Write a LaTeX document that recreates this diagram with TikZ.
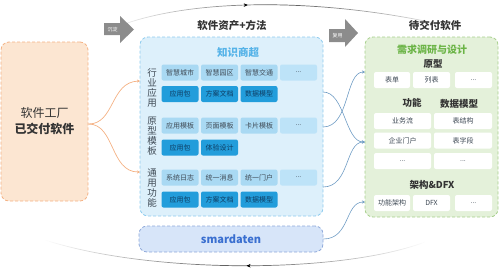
\documentclass[tikz,border=0pt]{standalone}
\usepackage{fontspec}
\setmainfont{Noto Sans CJK SC}
\usetikzlibrary{arrows.meta,fadings,decorations.markings}
\definecolor{orfill}{HTML}{FCE6D2}
\definecolor{orline}{HTML}{F4B183}
\definecolor{midfill}{HTML}{DDF0FB}
\definecolor{midline}{HTML}{8ECBEE}
\definecolor{lightb}{HTML}{A9D9F3}
\definecolor{lighterb}{HTML}{BDE3F8}
\definecolor{darkb}{HTML}{229DDB}
\definecolor{darktxt}{HTML}{0E3D63}
\definecolor{txtgray}{HTML}{3F4A55}
\definecolor{titleb}{HTML}{55B3E8}
\definecolor{smfill}{HTML}{D7E5F9}
\definecolor{smline}{HTML}{8FA9DA}
\definecolor{smtxt}{HTML}{3A6FD0}
\definecolor{grfill}{HTML}{E4F1DA}
\definecolor{grline}{HTML}{A8D08D}
\definecolor{grtxt}{HTML}{6BB446}
\definecolor{arrgray}{HTML}{8C8C8C}
\definecolor{conblue}{HTML}{6F9CC4}
\tikzfading[name=fadeends, left color=transparent!100, right color=transparent!100, middle color=transparent!0]
\begin{document}
\begin{tikzpicture}[x=1pt,y=-1pt,
  cell/.style={rectangle, rounded corners=2pt, inner sep=0pt, minimum height=16pt,
    minimum width=37pt, font=\fontsize{7}{8}\selectfont},
  lcell/.style={cell, fill=lightb, text=txtgray},
  ldots/.style={cell, fill=lighterb, text=txtgray},
  dcell/.style={cell, fill=darkb, text=darktxt},
  wcell/.style={cell, fill=white, text=txtgray},
  bigbox/.style={rectangle, rounded corners=8pt, dash pattern=on 3pt off 2pt, line width=0.8pt, inner sep=0pt},
  vlabel/.style={align=center, font=\fontsize{9.5}{10}\selectfont, text=txtgray, inner sep=0pt},
  head/.style={font=\bfseries\fontsize{10.5}{12}\selectfont, text=black!80},
  sub/.style={font=\bfseries\fontsize{9.5}{11}\selectfont, text=black!80},
  blockarr/.style={fill=arrgray, draw=none},
  orcon/.style={draw=orline, line width=0.7pt, -{Stealth[length=3pt,width=3pt]}},
  bcon/.style={draw=conblue, line width=0.6pt, -{Stealth[length=3pt,width=3pt]}},
  arc/.style={draw=gray!70!black, line width=0.7pt}
]
\useasboundingbox (0,0) rectangle (499,269);

% cycle arcs
\draw[arc, path fading=fadeends] (105,32) .. controls (180,-4) and (330,-4) .. (465,30);
\path[postaction={decorate}, decoration={markings, mark=at position 0.4 with {\arrow{Stealth[length=4pt,width=3.5pt]}}}] (105,32) .. controls (180,-4) and (330,-4) .. (465,30);
\draw[arc, path fading=fadeends] (45,240) .. controls (150,274) and (340,274) .. (425,242);
\path[postaction={decorate}, decoration={markings, mark=at position 0.53 with {\arrowreversed{Stealth[length=4pt,width=3.5pt]}}}] (45,240) .. controls (150,274) and (340,274) .. (425,242);

% left box
\node (factory) [bigbox, draw=orline, fill=orfill, minimum width=87pt, minimum height=159pt] at (44.5,121.5) {};
\node (ftext) [align=center, font=\fontsize{12}{16}\selectfont, text=black!80] at (44.5,121.5) {软件工厂\\\textbf{已交付软件}};

% block arrows
\fill[blockarr] (104,23) -- (120,23) -- (120,16) -- (134,29.5) -- (120,43) -- (120,35) -- (104,35) -- cycle;
\node (chen) [font=\fontsize{5}{6}\selectfont, text=white] at (112.5,29.5) {沉淀};
\fill[blockarr] (329,29) -- (345,29) -- (345,19) -- (358,33) -- (345,47) -- (345,42) -- (329,42) -- cycle;
\node (fu) [font=\fontsize{5}{6}\selectfont, text=white] at (337.5,35.5) {复用};

% headers
\node (h1) [head] at (232,25) {软件资产+方法};
\node (h2) [head] at (435,25) {待交付软件};

% middle box
\node (mid) [bigbox, draw=midline, fill=midfill, minimum width=183pt, minimum height=179pt] at (231.5,126.5) {};
\node (mtitle) [font=\bfseries\fontsize{10.5}{12}\selectfont, text=titleb] at (238,52) {知识商超};

\node (v1) [vlabel] at (152,88) {行\\业\\应\\用};
\node (v2) [vlabel] at (152,136) {原\\型\\模\\板};
\node (v3) [vlabel] at (152,188) {通\\用\\功\\能};

\node (a1) [lcell] at (180,72.5) {智慧城市};
\node (a2) [lcell] at (219.5,72.5) {智慧园区};
\node (a3) [lcell] at (259,72.5) {智慧交通};
\node (a4) [ldots] at (298.5,72.5) {...};
\node (b1) [dcell] at (180,94) {应用包};
\node (b2) [dcell] at (219.5,94) {方案文档};
\node (b3) [dcell] at (259,94) {数据模型};

\node (c1) [lcell] at (180,125.5) {应用模板};
\node (c2) [lcell] at (219.5,125.5) {页面模板};
\node (c3) [lcell] at (259,125.5) {卡片模板};
\node (c4) [ldots] at (298.5,125.5) {...};
\node (d1) [dcell] at (180,147.5) {应用包};
\node (d2) [dcell] at (219.5,147.5) {体验设计};

\node (e1) [lcell] at (180,177.5) {系统日志};
\node (e2) [lcell] at (219.5,177.5) {统一消息};
\node (e3) [lcell] at (259,177.5) {统一门户};
\node (e4) [ldots] at (298.5,177.5) {...};
\node (f1) [dcell] at (180,199.5) {应用包};
\node (f2) [dcell] at (219.5,199.5) {方案文档};
\node (f3) [dcell] at (259,199.5) {数据模型};

% smardaten
\node (sm) [bigbox, draw=smline, fill=smfill, minimum width=184pt, minimum height=26pt] at (231,239) {};
\node (smt) [font=\bfseries\fontsize{11}{12}\selectfont, text=smtxt] at (231,239) {smardaten};

% right box
\node (right) [bigbox, draw=grline, fill=grfill, minimum width=133pt, minimum height=180pt] at (431.5,127) {};
\node (rtitle) [font=\bfseries\fontsize{10}{12}\selectfont, text=grtxt] at (432,50) {需求调研与设计};
\node (p0) [sub] at (433,64) {原型};
\node (p1) [wcell, minimum width=36pt] at (392,80) {表单};
\node (p2) [wcell] at (431.5,80) {列表};
\node (p3) [wcell] at (473.5,80) {...};
\node (g0) [sub] at (412,103) {功能};
\node (m0) [sub] at (459,104) {数据模型};
\node (g1) [wcell, minimum width=57pt] at (402.5,121) {业务流};
\node (m1) [wcell, minimum width=58pt] at (463,121) {表结构};
\node (g2) [wcell, minimum width=57pt] at (402.5,140.5) {企业门户};
\node (m2) [wcell, minimum width=58pt] at (463,140.5) {表字段};
\node (g3) [wcell, minimum width=57pt] at (402.5,161) {...};
\node (m3) [wcell, minimum width=58pt] at (463,161) {...};
\node (x0) [sub] at (432,185) {架构\&DFX};
\node (x1) [wcell, minimum width=36pt] at (392,203) {功能架构};
\node (x2) [wcell] at (431.5,203) {DFX};
\node (x3) [wcell] at (473.5,203) {...};

% connector anchors
\coordinate (lo) at (88.5,124);
\coordinate (mi1) at (140,81);
\coordinate (mi2) at (140,172);
\coordinate (mo1) at (323,127);
\coordinate (mo2) at (323,92);
\coordinate (mo3) at (323,187);
\coordinate (ri1) at (365,72);
\coordinate (ri2) at (365,142);
\coordinate (ri3) at (365,202);

\draw[orcon] (lo) .. controls (115,124) and (110,82) .. (mi1);
\draw[orcon] (lo) .. controls (115,124) and (110,172) .. (mi2);
\draw[bcon] (mo1) .. controls (350,127) and (345,72) .. (ri1);
\draw[bcon] (mo2) .. controls (345,92) and (345,142) .. (ri2);
\draw[bcon] (mo3) .. controls (350,187) and (345,142) .. (ri2);
\draw[bcon] (sm.east) .. controls (350,239) and (345,202) .. (ri3);
\end{tikzpicture}
\end{document}
